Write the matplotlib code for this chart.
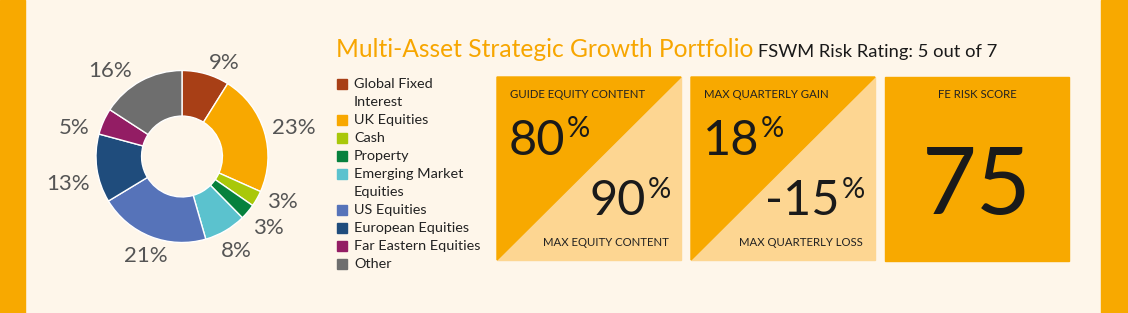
import matplotlib
matplotlib.use('Agg')
import matplotlib.pyplot as plt
from matplotlib.patches import Rectangle, Polygon

plt.rcParams['font.family'] = ['Lato', 'DejaVu Sans']

# portfolio breakdown (clockwise from 12 o'clock)
sectors = ['Global Fixed\nInterest', 'UK Equities', 'Cash', 'Property',
           'Emerging Market\nEquities', 'US Equities', 'European Equities',
           'Far Eastern Equities', 'Other']
weights = [9, 23, 3, 3, 8, 21, 13, 5, 16]
colours = ['#A83F16', '#F8A800', '#A9C80A', '#06813D', '#5BC2CE',
           '#5673B9', '#1F4C7C', '#931D64', '#6E6E6E']
# small pixel nudges for the pie labels (highcharts spreads them out)
label_nudge = [(0, 0), (-3, 0), (0, -2), (-3, 9), (-10, 11), (21, 9),
               (4, 14), (-4, 11), (-4, 0)]

title = 'Multi-Asset Strategic Growth Portfolio'
risk_rating = 'FSWM Risk Rating: 5 out of 7'

# the three boxes on the right
guide_equity = 80
max_equity = 90
max_gain = 18
max_loss = -15
fe_risk_score = 75

ORANGE = '#F8A900'
LIGHT = '#FDD692'
CREAM = '#FEF6EA'
W, H = 1128, 313

fig = plt.figure(figsize=(W / 100, H / 100), dpi=100)
fig.patch.set_facecolor(CREAM)

# full figure axes in pixel coordinates for the layout
bg = fig.add_axes([0, 0, 1, 1])
bg.set_xlim(0, W)
bg.set_ylim(H, 0)
bg.axis('off')
bg.add_patch(Rectangle((0, 0), 25, H, color=ORANGE))
bg.add_patch(Rectangle((1101, 0), W - 1101, H, color=ORANGE))

# donut
cx, cy, R = 182, 156.5, 86
lim = 1.6
size = 2 * R * lim
pie_ax = fig.add_axes([(cx - size / 2) / W, (H - cy - size / 2) / H, size / W, size / H])
wedges, labels = pie_ax.pie(weights, colors=colours, startangle=90, counterclock=False,
                            labels=[f'{w}%' for w in weights], labeldistance=1.13,
                            wedgeprops=dict(width=0.53, edgecolor='white', linewidth=1),
                            textprops=dict(fontsize=16, color='#555555'))
for lab, (dx, dy) in zip(labels, label_nudge):
    x, y = lab.get_position()
    lab.set_position((x + dx / R, y - dy / R))
pie_ax.set_xlim(-lim, lim)
pie_ax.set_ylim(-lim, lim)
pie_ax.set_aspect('equal')

# titles
bg.text(336, 57, title, fontsize=17.7, color='#F7A600', va='baseline')
bg.text(758, 57, risk_rating, fontsize=13.2, color='#1a1a1a', va='baseline')

# legend
y = 84
for name, col in zip(sectors, colours):
    bg.add_patch(Rectangle((337, y - 5), 10, 10, color=col))
    for line in name.split('\n'):
        bg.text(354, y, line, fontsize=10.4, color='#222222', va='center')
        y += 18


def split_box(x0, top_label, top_val, bot_val, bot_label):
    s = 184
    y0 = 77
    bg.add_patch(Rectangle((x0, y0), s, s - 1, color=LIGHT))
    bg.add_patch(Polygon([(x0, y0), (x0 + s, y0), (x0, y0 + s - 1)], color=ORANGE))
    bg.text(x0 + 13, y0 + 17, top_label, fontsize=8.2, color='#222222', va='center')
    t = bg.text(x0 + 12, y0 + 78, f'{top_val}', fontsize=35, color='#1a1a1a',
                va='baseline')
    fig.canvas.draw()
    bb = t.get_window_extent()
    xr = bg.transData.inverted().transform((bb.x1, bb.y1))[0]
    bg.text(xr + 1, y0 + 60, '%', fontsize=21, color='#1a1a1a', va='baseline')
    bg.text(x0 + s - 35, y0 + 138, f'{bot_val}', fontsize=35, color='#1a1a1a',
            va='baseline', ha='right')
    bg.text(x0 + s - 10, y0 + 121, '%', fontsize=21, color='#1a1a1a', va='baseline',
            ha='right')
    bg.text(x0 + s - 12, y0 + 166, bot_label, fontsize=8.2, color='#222222',
            va='center', ha='right')


split_box(497, 'GUIDE EQUITY CONTENT', guide_equity, max_equity, 'MAX EQUITY CONTENT')
split_box(691, 'MAX QUARTERLY GAIN', max_gain, max_loss, 'MAX QUARTERLY LOSS')

# FE risk score box
bg.add_patch(Rectangle((885, 77), 184, 184, color=ORANGE))
bg.text(977, 94, 'FE RISK SCORE', fontsize=8.2, color='#222222', va='center', ha='center')
bg.text(977, 214, f'{fe_risk_score}', fontsize=68, color='#1a1a1a', va='baseline',
        ha='center')

fig.savefig('out.png', dpi=100, facecolor=CREAM)
